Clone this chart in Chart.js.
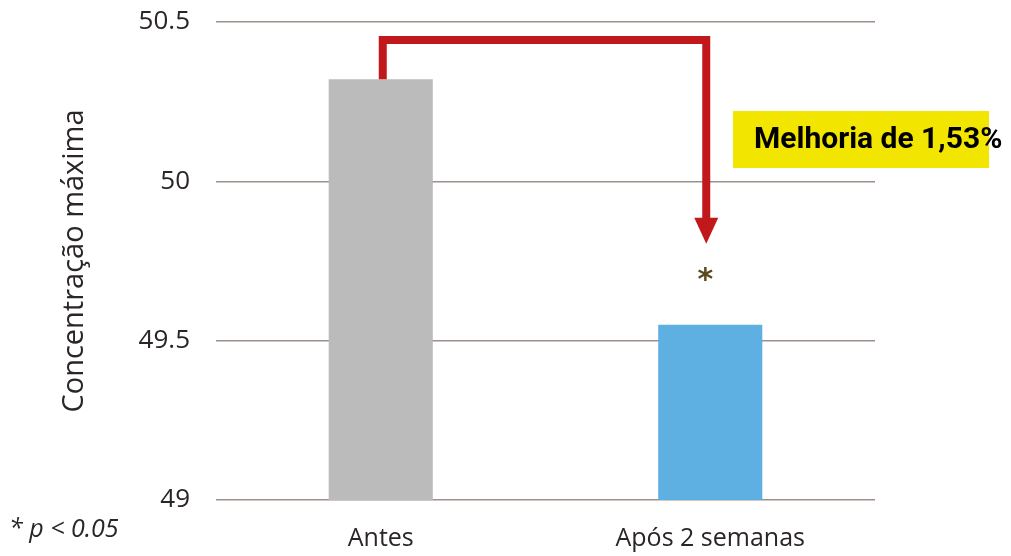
<!DOCTYPE html>
<html>
<head>
<meta charset="utf-8">
<script src="https://cdn.jsdelivr.net/npm/chart.js@4/dist/chart.umd.min.js"></script>
<style>
  html, body { margin: 0; padding: 0; background: #ffffff; }
  #wrap { width: 1011px; height: 556px; position: relative; }
</style>
</head>
<body>
<div id="wrap"><canvas id="c" width="1011" height="556"></canvas></div>
<script>
// Peak concentration before and after two weeks
const categories = ['Antes', 'Após 2 semanas'];
const values = [50.32, 49.55];
const barColors = ['#bbbbbb', '#5eb0e2'];
const yTicks = [49, 49.5, 50, 50.5];
const yTitle = 'Concentração máxima';
const improvementLabel = 'Melhoria de 1,53%';
const significanceMark = '*';
const footnote = '* p < 0.05';

const textColor = '#2b2626';
const baseFont = "'Open Sans', 'Noto Sans', sans-serif";

const annotations = {
  id: 'annotations',
  afterDatasetsDraw(chart) {
    const { ctx, chartArea } = chart;
    const xs = chart.scales.x, ys = chart.scales.y;
    ctx.save();

    // Red bracket arrow from the first bar to the second
    const xStart = xs.getPixelForValue(0) + 2;
    const yStart = ys.getPixelForValue(values[0]);
    const yTop = chartArea.top + 18;
    const xEnd = xs.getPixelForValue(1) - 4;
    const tipY = ys.getPixelForValue(values[1]) - 81;
    const headLen = 26, headHalf = 12;
    ctx.strokeStyle = '#c1191b';
    ctx.fillStyle = '#c1191b';
    ctx.lineWidth = 8;
    ctx.lineJoin = 'miter';
    ctx.beginPath();
    ctx.moveTo(xStart, yStart);
    ctx.lineTo(xStart, yTop);
    ctx.lineTo(xEnd, yTop);
    ctx.lineTo(xEnd, tipY - headLen + 1);
    ctx.stroke();
    ctx.beginPath();
    ctx.moveTo(xEnd - headHalf, tipY - headLen);
    ctx.lineTo(xEnd + headHalf, tipY - headLen);
    ctx.lineTo(xEnd, tipY);
    ctx.closePath();
    ctx.fill();

    // Highlight box with the improvement text
    ctx.fillStyle = '#f2e600';
    ctx.fillRect(733, 111, 256, 57);
    ctx.fillStyle = '#000000';
    ctx.font = "bold 30px 'Roboto', sans-serif";
    ctx.textAlign = 'left';
    ctx.textBaseline = 'middle';
    ctx.fillText(improvementLabel, 754, 140);

    // Significance marker above the second bar
    ctx.fillStyle = '#5a4a1e';
    ctx.font = "bold 30px 'DejaVu Sans', sans-serif";
    ctx.textAlign = 'center';
    ctx.fillText(significanceMark, xs.getPixelForValue(1) - 5, ys.getPixelForValue(values[1]) - 44);

    // Footnote
    ctx.fillStyle = textColor;
    ctx.font = "italic 25px " + baseFont;
    ctx.textAlign = 'left';
    ctx.fillText(footnote, 9, 530);

    ctx.restore();
  }
};

new Chart(document.getElementById('c'), {
  type: 'bar',
  data: {
    labels: categories,
    datasets: [{
      data: values,
      backgroundColor: barColors,
      borderWidth: 0,
      barPercentage: 0.316,
      categoryPercentage: 1.0
    }]
  },
  options: {
    responsive: false,
    animation: false,
    devicePixelRatio: 1,
    layout: { padding: { top: 22, right: 136, left: 0, bottom: 0 } },
    plugins: { legend: { display: false }, tooltip: { enabled: false } },
    scales: {
      x: {
        grid: { display: false, drawTicks: false },
        border: { display: false },
        ticks: {
          color: textColor,
          font: { family: baseFont, size: 25 },
          padding: 24
        },
        afterFit(scale) { scale.height = 56; }
      },
      y: {
        min: yTicks[0],
        max: yTicks[yTicks.length - 1],
        afterBuildTicks(scale) { scale.ticks = yTicks.map(v => ({ value: v })); },
        grid: { color: '#9f8f8b', lineWidth: 1.6, drawTicks: false },
        border: { display: false },
        ticks: {
          color: textColor,
          font: { family: baseFont, size: 26 },
          padding: 26,
          callback: v => String(v)
        },
        title: {
          display: true,
          text: yTitle,
          color: textColor,
          font: { family: baseFont, size: 29 },
          padding: { top: 57, bottom: 0 }
        },
        afterFit(scale) {
          scale.width = 216;
          scale.paddingTop = 0;
          scale.paddingBottom = 0;
        }
      }
    }
  },
  plugins: [annotations]
});
</script>
</body>
</html>
